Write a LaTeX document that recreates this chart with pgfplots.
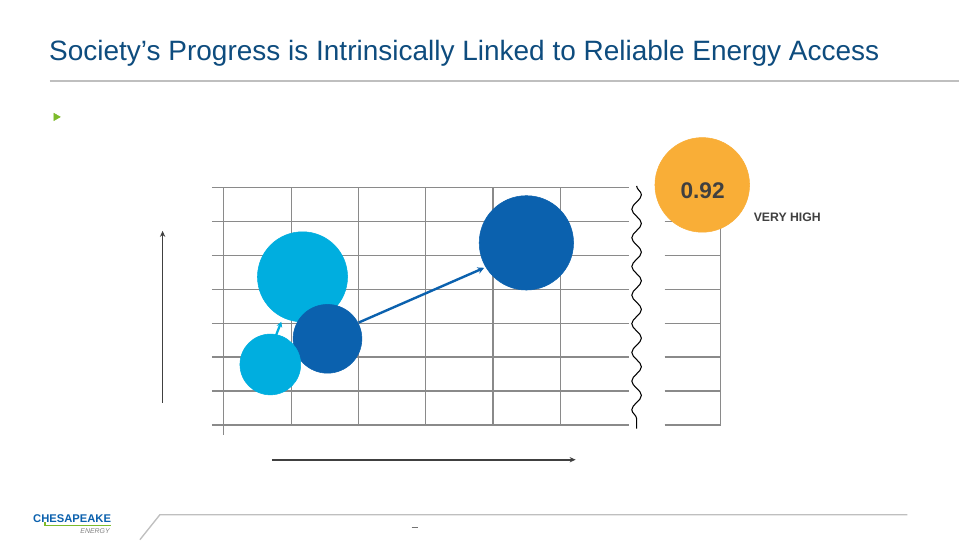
\documentclass[border=0pt]{standalone}
\usepackage{pgfplots}
\pgfplotsset{compat=1.18}
\usepackage{fontspec}
\setmainfont{Liberation Sans}
\usetikzlibrary{decorations.pathmorphing,arrows.meta}
\definecolor{titleblue}{HTML}{0E4C7E}
\definecolor{lightb}{HTML}{00AEDF}
\definecolor{darkb}{HTML}{0B61AE}
\definecolor{orangeb}{HTML}{F9AE37}
\definecolor{gridc}{HTML}{8A8A8A}
\definecolor{txtc}{HTML}{404040}
\definecolor{greenb}{HTML}{7DBB2A}
\begin{document}
\begin{tikzpicture}
\fill[white] (0,0) rectangle (720pt,405pt);
\begin{axis}[at={(0,0)},anchor=south west,
  width=720pt,height=405pt,scale only axis,
  xmin=0,xmax=960,ymin=0,ymax=540,y dir=reverse,
  hide axis,clip=false]
% title rule
\addplot[draw=black!25,line width=0.9pt] coordinates {(50,81) (960,81)};
% grid: horizontal lines (left part)
\pgfplotsinvokeforeach{187.3,221.3,255.3,289.3,323.3,357.3,391.3,425.3}{
  \addplot[gridc,line width=0.9pt] coordinates {(212,#1) (629,#1)};
}
% grid: vertical lines
\pgfplotsinvokeforeach{291.3,358.7,426,493.3,560.7}{
  \addplot[gridc,line width=0.9pt] coordinates {(#1,187.3) (#1,425.3)};
}
\addplot[gridc,line width=0.9pt] coordinates {(223.3,187.3) (223.3,435)};
% right part lines
\pgfplotsinvokeforeach{221.3,255.3,289.3,323.3,357.3,391.3,425.3}{
  \addplot[gridc,line width=0.9pt] coordinates {(665,#1) (721,#1)};
}
\addplot[gridc,line width=0.9pt] coordinates {(721,221.3) (721,425.3)};
% wavy break
\addplot[black,line width=0.8pt,decorate,decoration={snake,amplitude=3.6pt,segment length=21.5pt}] coordinates {(637,186) (637,429)};
% axis arrows
\addplot[txtc,line width=1.2pt,-{Stealth[length=4.5pt,width=4pt]}] coordinates {(162.7,403) (162.7,231)};
\addplot[txtc,line width=1.2pt,-{Stealth[length=4.5pt,width=4pt]}] coordinates {(272,460) (576,460)};
% bubbles
\addplot[only marks,mark=*,mark size=33.8pt,lightb,mark options={draw=none,fill=lightb}] coordinates {(302.7,277)};
\addplot[only marks,mark=*,mark size=25.8pt,darkb,mark options={draw=none,fill=darkb}] coordinates {(327.7,339)};
\addplot[only marks,mark=*,mark size=22.8pt,lightb,mark options={draw=none,fill=lightb}] coordinates {(270.5,364.7)};
\addplot[only marks,mark=*,mark size=35.4pt,darkb,mark options={draw=none,fill=darkb}] coordinates {(526.7,243)};
\addplot[only marks,mark=*,mark size=35.5pt,orangeb,mark options={draw=none,fill=orangeb}] coordinates {(702.7,185)};
% progress arrows
\addplot[lightb,line width=1.7pt,-{Stealth[length=4pt,width=4.5pt]}] coordinates {(276,336) (281.5,322)};
\addplot[darkb,line width=1.8pt,-{Stealth[length=5pt,width=5pt]}] coordinates {(359,322.7) (484.5,268)};
% bullet
\addplot[greenb,only marks,mark=triangle*,mark size=3.2pt,mark options={rotate=-90,draw=greenb,fill=greenb}] coordinates {(56,117)};
% footer
\addplot[draw=black!25,line width=1pt] coordinates {(140,540) (160,515) (908,515)};
\addplot[draw=black!55,line width=0.6pt] coordinates {(412,527.5) (418,527.5)};
\addplot[greenb,line width=1pt] coordinates {(45,522.5) (45,526) (111,526)};
% anchor coordinates for texts
\coordinate (tval) at (axis cs:703,191);
\coordinate (tvh) at (axis cs:754,217);
\coordinate (ttitle) at (axis cs:49,53);
\coordinate (tlogo) at (axis cs:33,519);
\coordinate (tenergy) at (axis cs:110,531);
\end{axis}
\node[font=\bfseries\fontsize{17}{19}\selectfont,text=txtc] at (tval) {0.92};
\node[font=\bfseries\fontsize{9.2}{10}\selectfont,text=txtc,anchor=west,inner sep=0pt] at (tvh) {VERY HIGH};
\node[font=\fontsize{21}{24}\selectfont,text=titleblue,anchor=west,inner sep=0pt] at (ttitle) {Society’s Progress is Intrinsically Linked to Reliable Energy Access};
\node[font=\bfseries\fontsize{8.4}{9}\selectfont,text=darkb,anchor=west,inner sep=0pt] at (tlogo) {CHESAPEAKE};
\node[font=\itshape\fontsize{5.2}{6}\selectfont,text=black!50,anchor=east,inner sep=0pt] at (tenergy) {ENERGY};
\end{tikzpicture}
\end{document}
